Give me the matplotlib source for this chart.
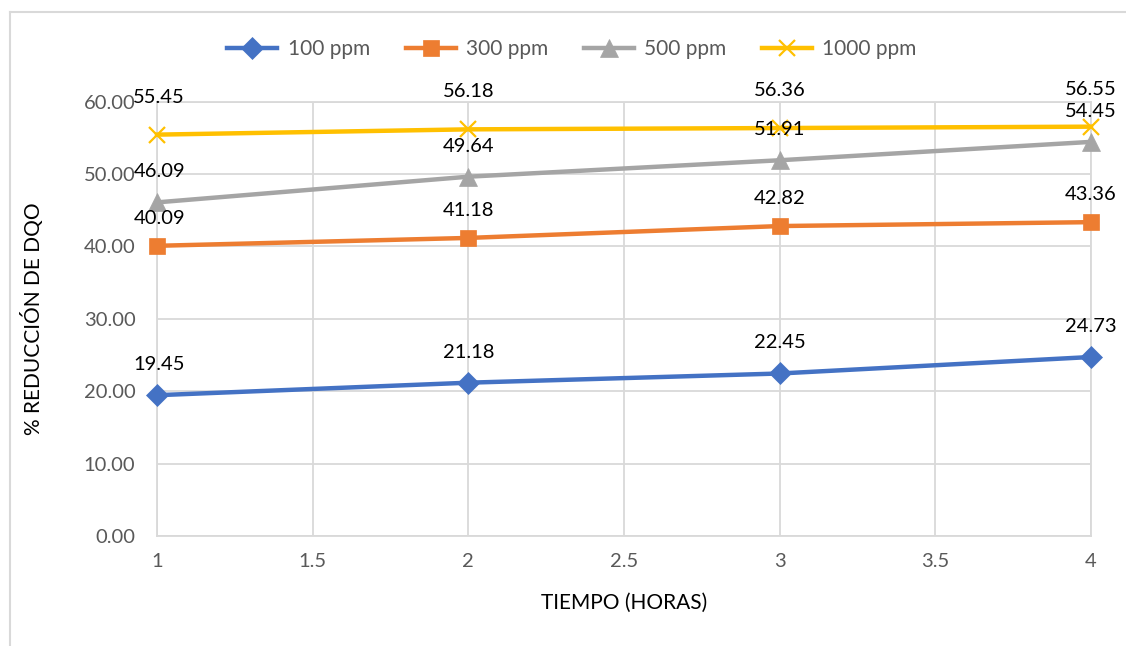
import matplotlib
matplotlib.use("Agg")
import matplotlib.pyplot as plt
from matplotlib.lines import Line2D

hours = [1, 2, 3, 4]
ppm100 = [19.45, 21.18, 22.45, 24.73]
ppm300 = [40.09, 41.18, 42.82, 43.36]
ppm500 = [46.09, 49.64, 51.91, 54.45]
ppm1000 = [55.45, 56.18, 56.36, 56.55]
series_names = ["100 ppm", "300 ppm", "500 ppm", "1000 ppm"]
x_ticks = [1, 1.5, 2, 2.5, 3, 3.5, 4]
x_tick_labels = ["1", "1.5", "2", "2.5", "3", "3.5", "4"]
y_ticks = [0, 10, 20, 30, 40, 50, 60]

plt.rcParams['font.family'] = ['Lato', 'DejaVu Sans']

FS = 15
FS_DATA = 14.5
FS_TICK = 14.5

fig = plt.figure(figsize=(11.26, 6.46), dpi=100)
ax = fig.add_axes([157/1126, 1-536/646, (1091-157)/1126, (536-101.7)/646])

colors = ["#4472C4", "#ED7D31", "#A5A5A5", "#FFC000"]
markers = ["D", "s", "^", "x"]
msizes = [11, 12, 13, 12]
offsets = [22, 20, 22, 27]  # label offset (points)
all_series = [ppm100, ppm300, ppm500, ppm1000]

def mew(m):
    return 1.6 if m == "x" else 0.5

for vals, name, c, m, ms, off in zip(all_series, series_names, colors, markers, msizes, offsets):
    ax.plot(hours, vals, color=c, lw=3.2, marker=m, markersize=ms,
            markeredgewidth=mew(m), markeredgecolor=c,
            label=name, clip_on=False, zorder=3)
    for xv, yv in zip(hours, vals):
        ax.annotate(f"{yv:.2f}", (xv, yv), xytext=(1.5 if xv == 1 else 0, off),
                    textcoords="offset points",
                    ha="center", va="center", fontsize=FS_DATA, color="black", zorder=4,
                    annotation_clip=False)

ax.set_xlim(1, 4)
ax.set_ylim(0, 60)
ax.set_xticks(x_ticks)
ax.set_xticklabels(x_tick_labels)
ax.set_yticks(y_ticks)
ax.set_yticklabels([f"{v:.2f}" for v in y_ticks])
ax.grid(True, color="#D9D9D9", lw=1.3, zorder=0)
ax.set_axisbelow(True)
for s in ax.spines.values():
    s.set_color("#D9D9D9")
    s.set_linewidth(1.3)
ax.tick_params(length=0, labelsize=FS_TICK, labelcolor="#595959")
ax.tick_params(axis='x', pad=12)
ax.tick_params(axis='y', pad=15.5)

ax.set_xlabel("TIEMPO (HORAS)", fontsize=FS, color="black")
ax.set_ylabel("% REDUCCIÓN DE DQO", fontsize=FS, color="black")
ax.xaxis.set_label_coords(0.5, (536-603)/434.3)
ax.yaxis.set_label_coords((33-157)/934, 0.5)
ax.xaxis.label.set_va("center")
ax.yaxis.label.set_va("center")

handles = [Line2D([0], [0], color=c, lw=3.2, marker=m, markersize=ms,
                  markeredgewidth=mew(m), markeredgecolor=c)
           for c, m, ms in zip(colors, markers, msizes)]
leg = fig.legend(handles, series_names, loc="center", bbox_to_anchor=(572/1126, 1-49/646),
                 ncol=4, frameon=False, fontsize=FS, handlelength=2.4, columnspacing=1.7,
                 handletextpad=0.5)
for t in leg.get_texts():
    t.set_color("#595959")

# outer border (left and top visible)
fig.add_artist(Line2D([10/1126, 10/1126], [0, 1-12/646], color="#D9D9D9", lw=1.5,
                      transform=fig.transFigure))
fig.add_artist(Line2D([10/1126, 1], [1-12/646, 1-12/646], color="#D9D9D9", lw=1.5,
                      transform=fig.transFigure))

fig.savefig("out.png", dpi=100)
